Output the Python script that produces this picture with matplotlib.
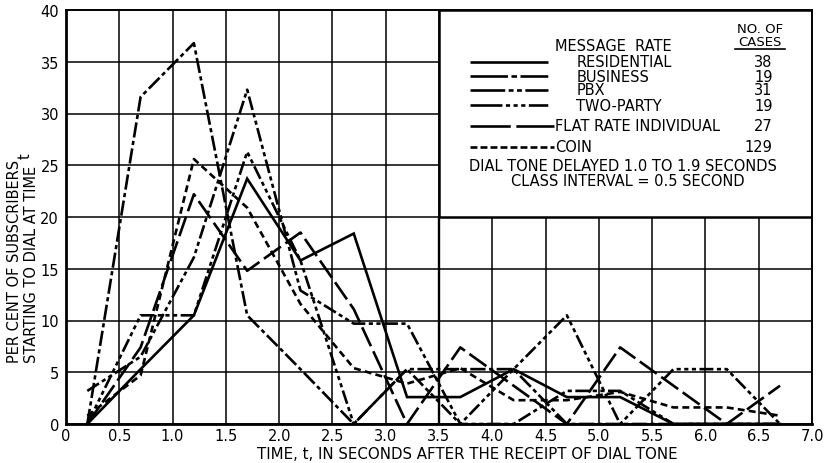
import matplotlib
matplotlib.use("Agg")
import matplotlib.pyplot as plt
from matplotlib.patches import Rectangle
import numpy as np

plt.rcParams['font.family'] = ['DejaVu Sans']
plt.rcParams['lines.scale_dashes'] = False

# class midpoints (seconds after dial tone)
t_mid = [0.2, 0.7, 1.2, 1.7, 2.2, 2.7, 3.2, 3.7, 4.2, 4.7, 5.2, 5.7, 6.2, 6.7]

# per cent of subscribers starting to dial in each class
residential = [0, 5.3, 10.5, 23.7, 15.8, 18.4, 2.6, 2.6, 5.3, 2.6, 2.6, 0, 0, 0]
business    = [0, 31.6, 36.8, 10.5, 5.3, 0, 5.3, 5.3, 5.3, 0, 0, 0, 0, 0]
pbx         = [3.2, 6.5, 16.1, 32.3, 12.9, 9.7, 9.7, 0, 0, 3.2, 3.2, 0, 0, 0]
two_party   = [0, 10.5, 10.5, 26.3, 15.8, 0, 5.3, 0, 5.3, 10.5, 0, 5.3, 5.3, 0]
flat_rate   = [0, 7.4, 22.2, 14.8, 18.5, 11.1, 0, 7.4, 3.7, 0, 7.4, 3.7, 0, 3.7]
coin        = [0.8, 4.7, 25.6, 20.9, 11.6, 5.4, 3.9, 5.4, 2.3, 2.3, 3.1, 1.6, 1.6, 0.8]

group_names = ["RESIDENTIAL", "BUSINESS", "PBX", "TWO-PARTY",
               "FLAT RATE INDIVIDUAL", "COIN"]
cases = [38, 19, 31, 19, 27, 129]

x_ticks = np.arange(0, 7.01, 0.5)
x_tick_labels = ["0"] + [f"{v:.1f}" for v in x_ticks[1:]]
y_ticks = np.arange(0, 41, 5)

# dash patterns (points) for the curves and for the key samples
curve_dash = [None,
              (0, (11, 2.5, 3, 2.5)),
              (0, (10, 2.5, 3, 2.5, 3, 2.5)),
              (0, (10, 2.5, 3, 2.5, 3, 2.5, 3, 2.5)),
              (0, (15, 4)),
              (0, (5, 3))]
key_dash = [None,
            (0, (27, 2.5, 4, 2.5, 20, 200)),
            (0, (25, 2.5, 3.5, 2.5, 3.5, 2.5, 17, 200)),
            (0, (23, 2.5, 3, 2.5, 3, 2.5, 3, 2.5, 14, 200)),
            (0, (29, 4, 28, 200)),
            (0, (5, 2.2))]

fig = plt.figure(figsize=(8.27, 4.64), dpi=100)
ax = fig.add_axes([66 / 827, 39 / 464, 746 / 827, 414 / 464])

series = [residential, business, pbx, two_party, flat_rate, coin]
for vals, ds in zip(series, curve_dash):
    line, = ax.plot(t_mid, vals, color='black', lw=1.9, zorder=3,
                    solid_joinstyle='miter', clip_on=False)
    if ds is not None:
        line.set_linestyle(ds)

ax.set_xlim(0, 7.0)
ax.set_ylim(0, 40)
ax.set_xticks(x_ticks)
ax.set_xticklabels(x_tick_labels)
ax.set_yticks(y_ticks)
ax.tick_params(length=0, labelsize=10.5)
ax.tick_params(axis='x', pad=3)
ax.tick_params(axis='y', pad=5)
ax.set_axisbelow(True)
ax.grid(True, color='black', lw=1.1)
for side in ['left', 'bottom']:
    ax.spines[side].set_linewidth(2.0)
for side in ['top', 'right']:
    ax.spines[side].set_linewidth(1.4)

# key panel in the upper right
ax.add_patch(Rectangle((3.5, 20), 3.5, 20, facecolor='white', edgecolor='black',
                       lw=1.8, zorder=1.5))
ax.plot([3.5, 3.5], [0, 20], color='black', lw=1.7, zorder=1.6)

fs = 10.5
ax.text(4.59, 36.6, "MESSAGE  RATE", fontsize=fs, va='center', ha='left', zorder=4)
ax.text(6.515, 38.2, "NO. OF", fontsize=9.5, va='center', ha='center', zorder=4)
ax.text(6.515, 36.95, "CASES", fontsize=9.5, va='center', ha='center', zorder=4)
ax.plot([6.28, 6.75], [36.2, 36.2], color='black', lw=1.2, zorder=4)

row_y = [35.0, 33.6, 32.3, 30.8, 28.8, 26.8]
for i, (name, n, ds, y) in enumerate(zip(group_names, cases, key_dash, row_y)):
    x_end = 4.52 if i < 4 else 4.58
    key_line, = ax.plot([3.79, x_end], [y, y], color='black', lw=1.9, zorder=4,
                        solid_capstyle='butt', dash_capstyle='butt')
    if ds is not None:
        key_line.set_linestyle(ds)
    lx = 4.79 if i < 4 else 4.59
    ax.text(lx, y, name, fontsize=fs, va='center', ha='left', zorder=4)
    ax.text(6.63, y, str(n), fontsize=fs, va='center', ha='right', zorder=4)

ax.text(5.23, 25.0, "DIAL TONE DELAYED 1.0 TO 1.9 SECONDS", fontsize=fs,
        va='center', ha='center', zorder=4)
ax.text(5.27, 23.55, "CLASS INTERVAL = 0.5 SECOND", fontsize=fs,
        va='center', ha='center', zorder=4)

# axis titles
fig.text(467 / 827, 1 - 455 / 464, "TIME, t, IN SECONDS AFTER THE RECEIPT OF DIAL TONE",
         fontsize=10.8, ha='center', va='center')
ylab1 = fig.text(15 / 827, 1 - 363 / 464, "PER CENT OF SUBSCRIBERS", fontsize=10.5,
                 rotation=90, ha='center', va='bottom')
ylab2 = fig.text(32 / 827, 1 - 363 / 464, "STARTING TO DIAL AT TIME", fontsize=10.5,
                 rotation=90, ha='center', va='bottom')

# raised "t" placed just beyond the ends of the title lines
fig.canvas.draw()
renderer = fig.canvas.get_renderer()
top_px = max(ylab1.get_window_extent(renderer=renderer).y1,
              ylab2.get_window_extent(renderer=renderer).y1)
fig.text(25 / 827, (top_px + 1) / fig.bbox.height, "t", fontsize=10.5, rotation=90,
         ha='center', va='bottom')

fig.savefig("out.png", dpi=100)
